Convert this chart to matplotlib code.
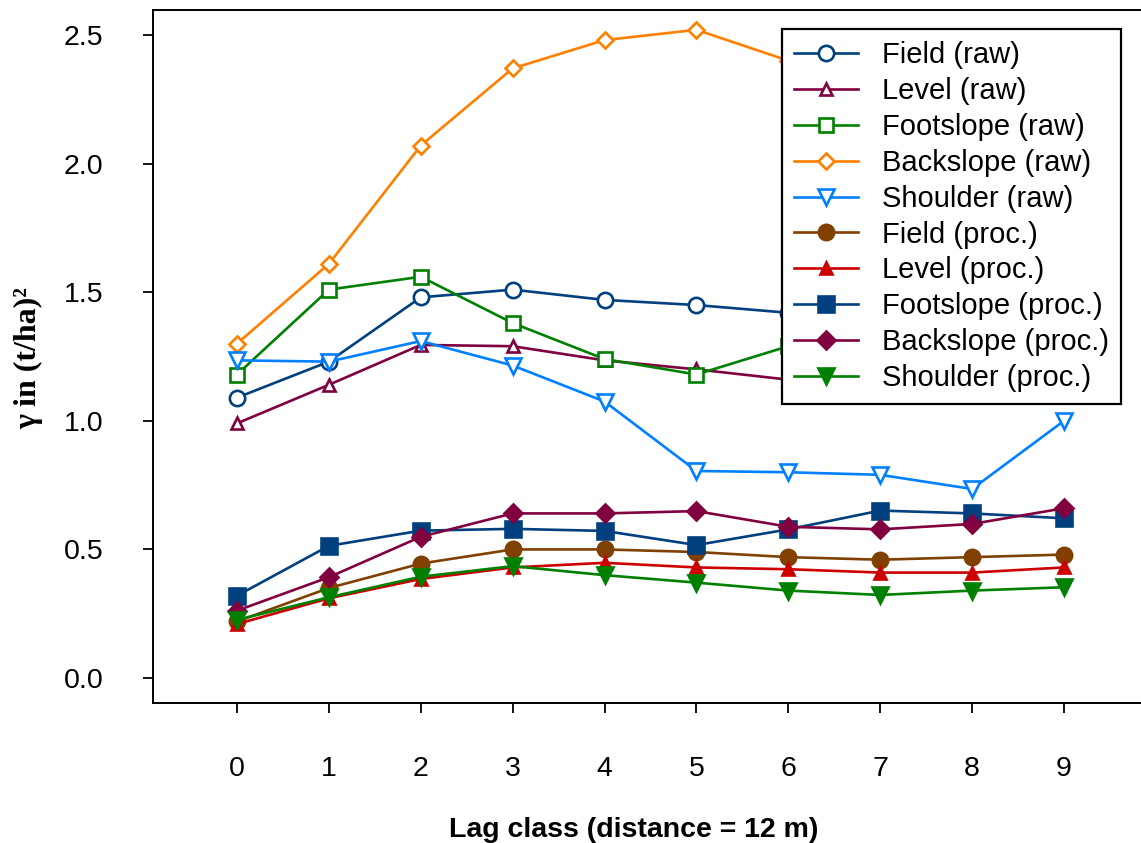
import numpy as np
import matplotlib
matplotlib.use('Agg')
import matplotlib.pyplot as plt

plt.rcParams['font.family'] = ['Liberation Sans', 'DejaVu Sans']

lag = np.arange(10)

# semivariance per lag class, raw yields
field_raw = [1.09, 1.23, 1.48, 1.51, 1.47, 1.45, 1.42, 1.40, 1.38, 1.40]
level_raw = [0.99, 1.14, 1.295, 1.29, 1.235, 1.20, 1.16, 1.13, 1.12, 1.14]
foot_raw = [1.18, 1.51, 1.56, 1.38, 1.24, 1.18, 1.29, 1.27, 1.25, 1.26]
back_raw = [1.30, 1.61, 2.07, 2.37, 2.48, 2.52, 2.40, 2.30, 2.20, 2.15]
shoulder_raw = [1.235, 1.23, 1.31, 1.215, 1.075, 0.805, 0.80, 0.79, 0.735, 1.00]

# semivariance per lag class, processed yields
field_proc = [0.22, 0.35, 0.445, 0.50, 0.50, 0.49, 0.47, 0.46, 0.47, 0.48]
level_proc = [0.21, 0.31, 0.385, 0.43, 0.448, 0.43, 0.423, 0.41, 0.41, 0.43]
foot_proc = [0.32, 0.514, 0.573, 0.58, 0.572, 0.517, 0.578, 0.651, 0.64, 0.621]
back_proc = [0.262, 0.392, 0.549, 0.64, 0.64, 0.649, 0.588, 0.578, 0.599, 0.66]
shoulder_proc = [0.226, 0.314, 0.394, 0.435, 0.40, 0.371, 0.34, 0.323, 0.34, 0.353]

series = [
    ('Field (raw)', field_raw, '#00407f', 'o', 11, False),
    ('Level (raw)', level_raw, '#7f0040', '^', 9, False),
    ('Footslope (raw)', foot_raw, '#008000', 's', 10.5, False),
    ('Backslope (raw)', back_raw, '#ff8000', 'D', 8, False),
    ('Shoulder (raw)', shoulder_raw, '#0080ff', 'v', 11, False),
    ('Field (proc.)', field_proc, '#804000', 'o', 11, True),
    ('Level (proc.)', level_proc, '#cc0000', '^', 9, True),
    ('Footslope (proc.)', foot_proc, '#00407f', 's', 11, True),
    ('Backslope (proc.)', back_proc, '#800040', 'D', 9, True),
    ('Shoulder (proc.)', shoulder_proc, '#008000', 'v', 11, True),
]

fig = plt.figure(figsize=(11.41, 8.43), dpi=100)
ax = fig.add_axes([153 / 1141, 140 / 843, 1 - 153 / 1141, 693 / 843])

for label, vals, col, mk, ms, filled in series:
    ax.plot(lag, vals, color=col, lw=1.9, marker=mk, ms=ms, mew=1.9,
            mfc=col if filled else 'white', mec=col, label=label)

ax.set_xlim(-0.914, 9.838)
ax.set_ylim(-0.097, 2.597)
ax.set_xticks(lag)
ax.set_yticks([0.0, 0.5, 1.0, 1.5, 2.0, 2.5])
ax.set_yticklabels(['0.0', '0.5', '1.0', '1.5', '2.0', '2.5'])
ax.tick_params(axis='x', length=7.5, width=1.3, pad=31, labelsize=20.5)
ax.tick_params(axis='y', length=7.5, width=1.3, pad=28, labelsize=20.5)
ax.spines['right'].set_visible(False)
for s in ['left', 'bottom', 'top']:
    ax.spines[s].set_linewidth(1.4)

ax.set_xlabel('Lag class (distance = 12 m)', fontsize=20.5, fontweight='bold')
ax.xaxis.set_label_coords(0.487, -0.164)
ax.set_ylabel('\u03b3 in (t/ha)\u00b2', fontsize=23, fontweight='bold',
              family=['Liberation Serif', 'DejaVu Serif'])
ax.yaxis.set_label_coords(-0.111, 0.498)

leg = ax.legend(loc='upper right', bbox_to_anchor=(1121 / 1141, 1 - 29 / 843),
                bbox_transform=fig.transFigure, borderaxespad=0, fontsize=21,
                fancybox=False, framealpha=1, edgecolor='black',
                handlelength=2.2, handletextpad=0.8, labelspacing=0.27,
                borderpad=0.42)
leg.get_frame().set_linewidth(1.6)

fig.savefig('out.png', dpi=100)
